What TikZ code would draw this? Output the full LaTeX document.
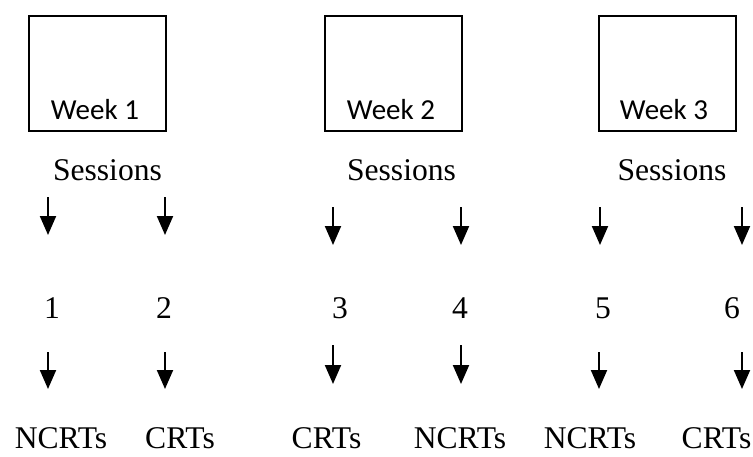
\documentclass[tikz,border=0pt]{standalone}
\usepackage{fontspec}
\setmainfont{Liberation Serif}
\newfontfamily\weekfont{Carlito}
\usetikzlibrary{arrows.meta}
\begin{document}
\begin{tikzpicture}[x=1pt,y=-1pt,
  weekbox/.style={draw,line width=1.5pt,minimum width=137pt,minimum height=115pt,inner sep=0pt},
  weeklbl/.style={font=\weekfont\fontsize{29}{32}\selectfont,anchor=base,inner sep=0pt},
  lbl/.style={font=\fontsize{31.6}{36}\selectfont,anchor=base,inner sep=0pt},
  botlbl/.style={lbl},
  arr/.style={line width=2pt,-{Triangle[length=19pt,width=16pt]}}]
\useasboundingbox (0,0) rectangle (753,456);
% week boxes
\node[weekbox] (w1) at (97.5,73.5) {};
\node[weekbox] (w2) at (393.5,73.5) {};
\node[weekbox] (w3) at (667.5,73.5) {};
\node[weeklbl] (w1t) at (95,119) {Week 1};
\node[weeklbl] (w2t) at (391,119) {Week 2};
\node[weeklbl] (w3t) at (664,119) {Week 3};
% sessions
\node[lbl] (s1) at (107.5,180) {Sessions};
\node[lbl] (s2) at (401.5,180) {Sessions};
\node[lbl] (s3) at (672,180) {Sessions};
% numbers
\node[lbl] (n1) at (52,318) {1};
\node[lbl] (n2) at (164,318) {2};
\node[lbl] (n3) at (340,318) {3};
\node[lbl] (n4) at (460,318) {4};
\node[lbl] (n5) at (603,318) {5};
\node[lbl] (n6) at (732,318) {6};
% bottom labels
\node[botlbl] (b1) at (61,448) {NCRTs};
\node[botlbl] (b2) at (180,448) {CRTs};
\node[botlbl] (b3) at (326.5,448) {CRTs};
\node[botlbl] (b4) at (460,448) {NCRTs};
\node[botlbl] (b5) at (590,448) {NCRTs};
\node[botlbl] (b6) at (716.5,448) {CRTs};
% arrow endpoints, upper row
\coordinate (u1a) at (48,197);  \coordinate (u1b) at (48,235);
\coordinate (u2a) at (165,197); \coordinate (u2b) at (165,235);
\coordinate (u3a) at (333,207); \coordinate (u3b) at (333,245);
\coordinate (u4a) at (461,207); \coordinate (u4b) at (461,245);
\coordinate (u5a) at (600,207); \coordinate (u5b) at (600,245);
\coordinate (u6a) at (742,207); \coordinate (u6b) at (742,245);
% arrow endpoints, lower row
\coordinate (l1a) at (48,352);  \coordinate (l1b) at (48,389);
\coordinate (l2a) at (165,352); \coordinate (l2b) at (165,389);
\coordinate (l3a) at (333,345); \coordinate (l3b) at (333,384);
\coordinate (l4a) at (461,345); \coordinate (l4b) at (461,384);
\coordinate (l5a) at (599,352); \coordinate (l5b) at (599,389);
\coordinate (l6a) at (742,352); \coordinate (l6b) at (742,389);
\foreach \i in {1,...,6}{
  \draw[arr] (u\i a) -- (u\i b);
  \draw[arr] (l\i a) -- (l\i b);
}
\end{tikzpicture}
\end{document}
